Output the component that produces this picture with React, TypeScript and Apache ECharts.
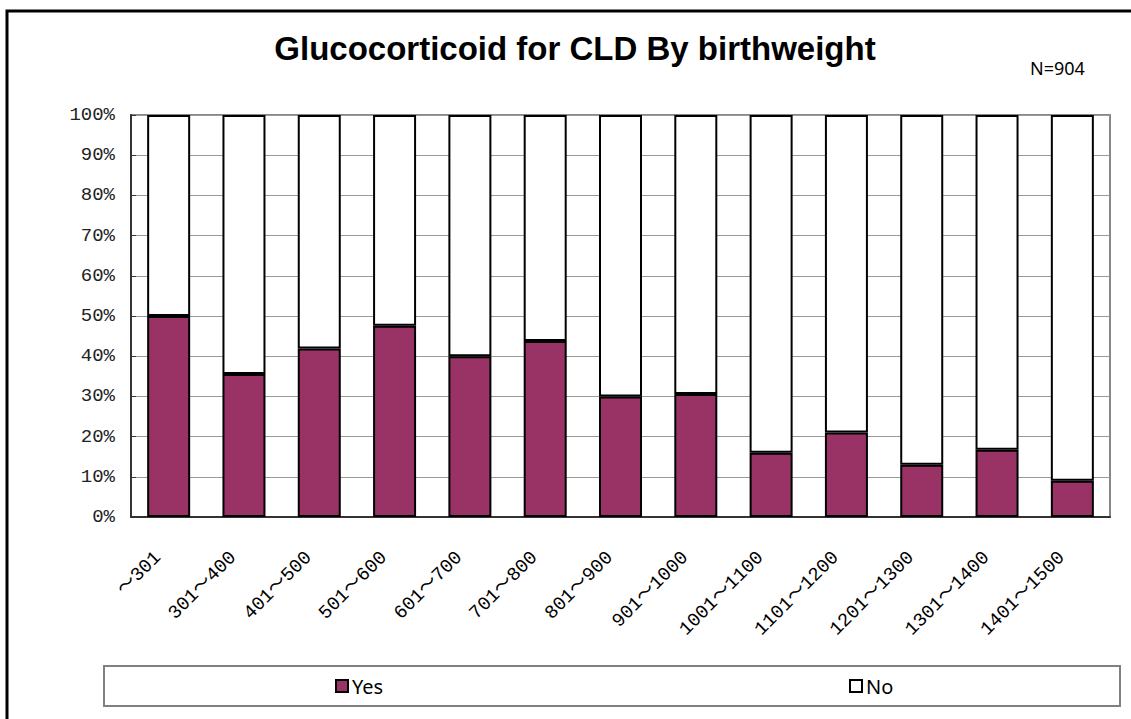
import React, { useEffect, useRef } from "react";
import * as echarts from "echarts";

const categories = ["～301", "301～400", "401～500", "501～600", "601～700", "701～800", "801～900", "901～1000", "1001～1100", "1101～1200", "1201～1300", "1301～1400", "1401～1500"];
const yesValues = [50, 35.6, 41.9, 47.6, 40, 43.8, 30, 30.6, 16, 21, 13, 16.7, 9];
const noValues = [50, 64.4, 58.1, 52.4, 60, 56.2, 70, 69.4, 84, 79, 87, 83.3, 91];
const yTicks = { min: 0, max: 100, interval: 10 };
const titleText = "Glucocorticoid for CLD By birthweight";
const nText = "N=904";

export default function App() {
  const ref = useRef<HTMLDivElement>(null);
  useEffect(() => {
    if (!ref.current) return;
    const chart = echarts.init(ref.current, null, { renderer: "svg" });
    const legendBase = {
      top: 676,
      padding: 0,
      icon: "rect",
      itemWidth: 12,
      itemHeight: 12,
      itemGap: 6,
      itemStyle: { borderColor: "#000", borderWidth: 2 },
      textStyle: { fontFamily: "Noto Sans", fontSize: 20, color: "#000", padding: [0, 0, 0, -1] },
    };
    chart.setOption({
      animation: false,
      backgroundColor: "#ffffff",
      title: [
        {
          text: titleText,
          left: 575,
          top: 32,
          textAlign: "center",
          padding: 0,
          textStyle: { fontFamily: "Liberation Sans", fontWeight: "bold", fontSize: 33, color: "#000" },
        },
        {
          text: nText,
          left: 1030,
          top: 59,
          padding: 0,
          textStyle: { fontFamily: "Noto Sans", fontWeight: "normal", fontSize: 18, color: "#000" },
        },
      ],
      legend: [
        { ...legendBase, data: ["Yes"], left: 335 },
        { ...legendBase, data: ["No"], left: 849 },
      ],
      grid: {
        left: 131,
        right: 21,
        top: 115,
        bottom: 202,
        show: true,
        borderColor: "#888",
        borderWidth: 2,
        backgroundColor: "transparent",
      },
      xAxis: {
        type: "category",
        data: categories,
        axisLine: { lineStyle: { color: "#333", width: 2 } },
        axisTick: { inside: true, length: 6, alignWithLabel: false, lineStyle: { color: "#333" } },
        axisLabel: {
          rotate: 45,
          interval: 0,
          margin: 27,
          padding: [0, 15, 0, 0],
          fontFamily: "Liberation Mono, Noto Sans CJK JP",
          fontSize: 19,
          color: "#000",
        },
      },
      yAxis: {
        type: "value",
        min: yTicks.min,
        max: yTicks.max,
        interval: yTicks.interval,
        axisLine: { show: true, lineStyle: { color: "#333", width: 2 } },
        axisTick: { show: true, inside: true, length: 5, lineStyle: { color: "#333" } },
        splitLine: { show: true, lineStyle: { color: "#999", width: 1 } },
        axisLabel: {
          formatter: "{value}%",
          margin: 16,
          fontFamily: "Liberation Mono",
          fontSize: 19,
          color: "#222",
        },
      },
      series: [
        {
          name: "Yes",
          type: "bar",
          stack: "total",
          data: yesValues,
          barWidth: 43,
          itemStyle: { color: "#993366", borderColor: "#000", borderWidth: 2 },
        },
        {
          name: "No",
          type: "bar",
          stack: "total",
          data: noValues,
          barWidth: 43,
          itemStyle: { color: "#ffffff", borderColor: "#000", borderWidth: 2 },
        },
      ],
      graphic: [
        {
          type: "rect",
          shape: { x: 7, y: 11, width: 1300, height: 900 },
          style: { fill: "none", stroke: "#000", lineWidth: 3 },
          silent: true,
        },
        {
          type: "rect",
          shape: { x: 104, y: 666, width: 1016, height: 40 },
          style: { fill: "none", stroke: "#808080", lineWidth: 2 },
          silent: true,
        },
      ],
    });
    return () => chart.dispose();
  }, []);
  return (
    <div
      ref={ref}
      style={{ position: "absolute", left: 0, top: 0, width: 1131, height: 719 }}
    />
  );
}
